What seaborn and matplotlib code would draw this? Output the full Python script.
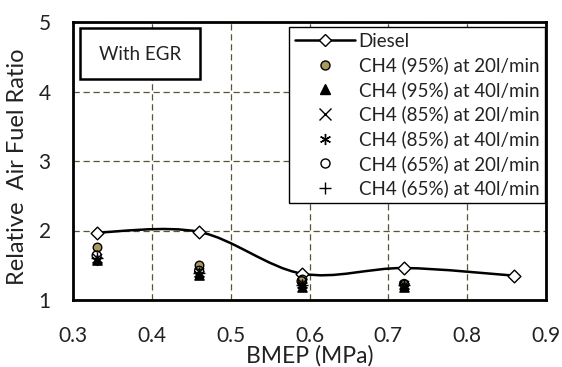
import matplotlib
matplotlib.use("Agg")
import matplotlib.pyplot as plt
from matplotlib.path import Path
from matplotlib.patches import PathPatch, Rectangle
from matplotlib.lines import Line2D
import seaborn as sns
import pandas as pd
import numpy as np

# ---- data ----
bmep_diesel = [0.33, 0.46, 0.59, 0.72, 0.86]
lambda_diesel = [1.97, 1.98, 1.38, 1.46, 1.35]

bmep_ch4 = [0.33, 0.46, 0.59, 0.72]
ch4_95_20 = [1.76, 1.50, 1.30, 1.23]
ch4_95_40 = [1.57, 1.36, 1.18, 1.18]
ch4_85_20 = [1.60, 1.40, 1.25, 1.22]
ch4_85_40 = [1.58, 1.38, 1.22, 1.20]
ch4_65_20 = [1.64, 1.42, 1.27, 1.23]
ch4_65_40 = [1.60, 1.39, 1.22, 1.21]

series_labels = ["CH4 (95%) at 20l/min", "CH4 (95%) at 40l/min",
                 "CH4 (85%) at 20l/min", "CH4 (85%) at 40l/min",
                 "CH4 (65%) at 20l/min", "CH4 (65%) at 40l/min"]
series_values = [ch4_95_20, ch4_95_40, ch4_85_20, ch4_85_40, ch4_65_20, ch4_65_40]

x_ticks = [0.3, 0.4, 0.5, 0.6, 0.7, 0.8, 0.9]
y_ticks = [1, 2, 3, 4, 5]

sns.set_theme(style="white")
plt.rcParams['font.family'] = ['Lato', 'DejaVu Sans']

TXT = '#222222'
fig = plt.figure(figsize=(5.62, 3.67), dpi=100)
ax = fig.add_axes([73/562, 1-300/367, (546-73)/562, (300-22)/367])

GRID = '#5b5336'
ax.set_xlim(0.3, 0.9)
ax.set_ylim(1, 5)
ax.set_xticks(x_ticks)
ax.set_yticks(y_ticks)
ax.set_xticklabels([f"{v:.1f}" for v in x_ticks])
ax.set_yticklabels([str(v) for v in y_ticks])
ax.grid(True, color=GRID, linestyle=(0, (5, 3)), linewidth=0.9)
ax.tick_params(axis='both', length=0, labelsize=15, colors=TXT)
ax.tick_params(axis='x', pad=19)
ax.tick_params(axis='y', pad=16)
for s in ax.spines.values():
    s.set_color('black')
    s.set_linewidth(2.0)

# smooth diesel curve (Catmull-Rom style bezier through data points)
pts = np.column_stack([bmep_diesel, lambda_diesel])
verts = [tuple(pts[0])]
codes = [Path.MOVETO]
n = len(pts)
for i in range(n - 1):
    p0 = pts[i - 1] if i > 0 else pts[i]
    p1 = pts[i]
    p2 = pts[i + 1]
    p3 = pts[i + 2] if i + 2 < n else pts[i + 1]
    c1 = p1 + (p2 - p0) / 6.0
    c2 = p2 - (p3 - p1) / 6.0
    verts += [tuple(c1), tuple(c2), tuple(p2)]
    codes += [Path.CURVE4] * 3
ax.add_patch(PathPatch(Path(verts, codes), facecolor='none', edgecolor='black',
                       linewidth=1.8, zorder=3))

df_d = pd.DataFrame({"BMEP": bmep_diesel, "lam": lambda_diesel})
sns.scatterplot(data=df_d, x="BMEP", y="lam", marker='D', s=42, color='white',
                edgecolor='black', linewidth=1.0, zorder=4, ax=ax)

styles = [
    dict(marker='o', s=38, color='#a99a5c', edgecolor='black', linewidth=1.0),
    dict(marker='^', s=44, color='black', edgecolor='black', linewidth=1.0),
    dict(marker='x', s=44, color='black', linewidth=1.0),
    dict(marker=(6, 2, 0), s=52, color='black', linewidth=1.0),
    dict(marker='o', s=42, color='none', edgecolor='black', linewidth=1.0),
    dict(marker='+', s=64, color='black', linewidth=1.0),
]
df = pd.DataFrame({"BMEP": np.tile(bmep_ch4, len(series_labels)),
                   "lam": np.concatenate(series_values),
                   "series": np.repeat(series_labels, len(bmep_ch4))})
handles = [Line2D([0], [0], color='black', linewidth=1.8, marker='D', markersize=6.5,
                  markerfacecolor='white', markeredgecolor='black', markeredgewidth=1.0)]
for lab, st in zip(series_labels, styles):
    sub = df[df["series"] == lab]
    sns.scatterplot(data=sub, x="BMEP", y="lam", zorder=5, ax=ax, legend=False, **st)
    mk = st['marker']
    fc = st.get('color')
    if mk in ('x', '+') or isinstance(mk, tuple):
        h = Line2D([0], [0], linestyle='none', marker=mk, markersize=8,
                   color='black', markeredgewidth=1.0)
    else:
        h = Line2D([0], [0], linestyle='none', marker=mk, markersize=6.5,
                   markerfacecolor=fc if fc != 'none' else 'none',
                   markeredgecolor='black', markeredgewidth=1.0)
    handles.append(h)

leg = ax.legend(handles, ["Diesel"] + series_labels, loc='upper right',
                bbox_to_anchor=(545/562, 1-27/367), bbox_transform=fig.transFigure,
                frameon=True, fancybox=False, framealpha=1, edgecolor='black',
                fontsize=13.5, handlelength=3.2, handletextpad=0.2,
                labelspacing=0.36, borderpad=0.3, borderaxespad=0)
leg.get_frame().set_linewidth(1.0)
leg.set_zorder(10)
for t in leg.get_texts():
    t.set_color(TXT)

# "With EGR" box
ax.add_patch(Rectangle((80/562, 1-79/367), 120/562, 51/367, transform=fig.transFigure,
                       facecolor='white', edgecolor='black', linewidth=1.8, zorder=8,
                       clip_on=False))
fig.text(140/562, 1-54/367, "With EGR", ha='center', va='center', fontsize=13.5,
         color=TXT, zorder=9)

ax.set_xlabel("BMEP (MPa)", fontsize=16.5, color=TXT)
ax.xaxis.set_label_coords(0.5, -(345-300)/278)
ax.set_ylabel("Relative  Air Fuel Ratio", fontsize=17, color=TXT)
ax.yaxis.set_label_coords(-0.095, 0.478)

fig.savefig("out.png", dpi=100)
